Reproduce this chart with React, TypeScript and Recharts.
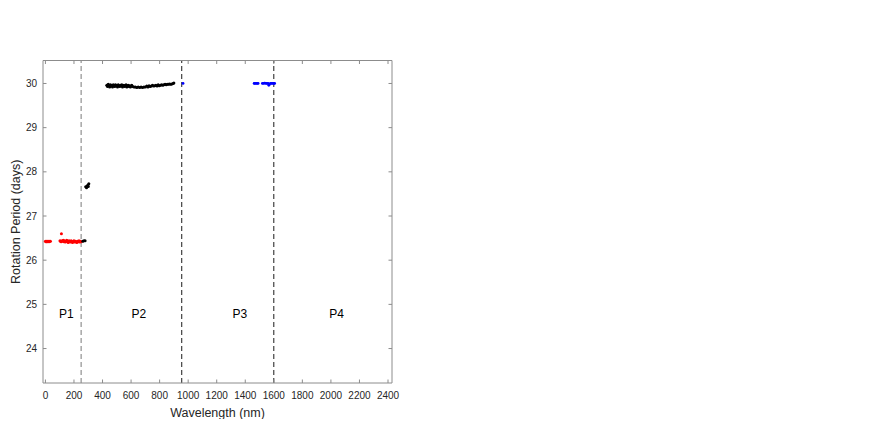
import { ScatterChart, Scatter, XAxis, YAxis, ReferenceLine } from 'recharts';

const X_TICKS = [0, 200, 400, 600, 800, 1000, 1200, 1400, 1600, 1800, 2000, 2200, 2400];
const Y_TICKS = [24, 25, 26, 27, 28, 29, 30];

// phase boundaries (nm)
const BOUNDARIES = [250, 955, 1600];
const PHASE_NAMES = ['P1', 'P2', 'P3', 'P4'];
const PHASE_X = [147, 654, 1362, 2039];
const PHASE_Y = 24.78;

const RED_POINTS = [
  [0, 26.43], [4, 26.42], [8, 26.43], [12, 26.42], [16, 26.43], [20, 26.43], [25, 26.42], [30, 26.43], [35, 26.43],
  [102, 26.44], [106, 26.43], [110, 26.42], [112, 26.6], [116, 26.44], [120, 26.43], [125, 26.45], [130, 26.42],
  [135, 26.44], [140, 26.41], [145, 26.43], [150, 26.45], [155, 26.42], [160, 26.4], [165, 26.44], [170, 26.43],
  [175, 26.41], [180, 26.44], [185, 26.42], [190, 26.4], [195, 26.43], [200, 26.44], [205, 26.41], [210, 26.43],
  [215, 26.42], [220, 26.4], [225, 26.43], [230, 26.42], [235, 26.44], [240, 26.41], [245, 26.43], [250, 26.42],
];

const BLACK_POINTS = [
  [262, 26.43], [270, 26.44], [278, 26.44],
  [282, 27.66], [288, 27.64], [292, 27.68], [298, 27.7], [304, 27.73], [300, 27.67],
  [430, 29.96], [435, 29.93], [440, 29.98], [445, 29.95], [450, 29.92], [455, 29.97], [460, 29.94], [465, 29.96],
  [470, 29.92], [475, 29.97], [480, 29.95], [485, 29.93], [490, 29.97], [495, 29.94], [500, 29.96], [505, 29.92],
  [510, 29.97], [515, 29.95], [520, 29.93], [525, 29.96], [530, 29.94], [535, 29.97], [540, 29.92], [545, 29.95],
  [550, 29.96], [555, 29.93], [560, 29.95], [565, 29.97], [570, 29.92], [575, 29.94], [580, 29.96], [585, 29.93],
  [590, 29.95], [595, 29.92], [600, 29.94], [605, 29.96], [610, 29.93],
  [620, 29.92], [630, 29.92], [640, 29.91], [650, 29.92], [660, 29.91], [670, 29.92], [680, 29.91], [690, 29.92], [700, 29.92],
  [710, 29.94], [718, 29.92], [726, 29.95], [734, 29.93], [742, 29.94], [750, 29.96], [758, 29.94], [766, 29.95],
  [774, 29.96], [782, 29.94], [790, 29.97], [798, 29.95], [806, 29.96], [814, 29.97], [822, 29.96], [830, 29.97],
  [838, 29.98], [846, 29.97], [854, 29.98], [862, 29.98], [870, 29.99], [878, 29.98], [886, 29.99], [894, 30.0], [900, 30.01],
];

const BLUE_POINTS = [
  [964, 30.0], [1462, 30.0], [1468, 30.0], [1476, 30.0], [1484, 30.0], [1490, 30.0],
  [1520, 30.0], [1528, 30.0], [1536, 30.01], [1544, 30.0], [1552, 30.0], [1560, 30.0], [1565, 29.96],
  [1568, 29.98], [1576, 30.0], [1584, 30.0], [1592, 30.0], [1600, 30.0], [1606, 30.0],
];

const FONT = '"Liberation Sans", Arial, Helvetica, sans-serif';
const AXIS_GREY = '#8c8c8c';
const TEXT = '#262626';
const TICK_LEN = 3.5;

const toRows = (pts: number[][]) => pts.map(([x, y]) => ({ x, y }));
const phaseRows = PHASE_NAMES.map((name, i) => ({ x: PHASE_X[i], y: PHASE_Y, name }));

const dot = (color: string, r: number) => (p: any) => (
  <circle cx={p.cx} cy={p.cy} r={r} fill={color} stroke="none" />
);

const phaseText = (p: any) => (
  <text x={p.cx} y={p.cy} textAnchor="middle" dominantBaseline="central" fontSize={12} fontFamily={FONT} fill="#000">
    {p.payload.name}
  </text>
);

// inward ticks, MATLAB style (axis lines drawn by recharts, ticks here)
const BottomTick = (p: any) => (
  <g>
    <line x1={p.x} x2={p.x} y1={p.y} y2={p.y - TICK_LEN} stroke={AXIS_GREY} />
    <text x={p.x} y={p.y + 15.5} textAnchor="middle" fontSize={10} fontFamily={FONT} fill={TEXT}>
      {p.payload.value}
    </text>
  </g>
);
const TopTick = (p: any) => (
  <line x1={p.x} x2={p.x} y1={p.y} y2={p.y + TICK_LEN} stroke={AXIS_GREY} />
);
const LeftTick = (p: any) => (
  <g>
    <line x1={p.x} x2={p.x + TICK_LEN} y1={p.y} y2={p.y} stroke={AXIS_GREY} />
    <text x={p.x - 6} y={p.y + 3.6} textAnchor="end" fontSize={10} fontFamily={FONT} fill={TEXT}>
      {p.payload.value}
    </text>
  </g>
);
const RightTick = (p: any) => (
  <line x1={p.x} x2={p.x - TICK_LEN} y1={p.y} y2={p.y} stroke={AXIS_GREY} />
);

export default function App() {
  return (
    <div style={{ width: 856, height: 411, fontFamily: FONT }}>
      <ScatterChart width={400} height={411} margin={{ top: 51.5, right: 15, bottom: 0, left: 0 }}>
        <XAxis
          type="number"
          dataKey="x"
          domain={[-17, 2428]}
          allowDataOverflow
          ticks={X_TICKS}
          interval={0}
          height={36}
          stroke={AXIS_GREY}
          tickLine={false}
          tickSize={0}
          tickMargin={0}
          tick={BottomTick}
          label={{ value: 'Wavelength (nm)', position: 'insideBottom', offset: 2, fontSize: 12.5, fill: TEXT, fontFamily: FONT }}
        />
        <XAxis
          xAxisId="top"
          orientation="top"
          type="number"
          dataKey="x"
          domain={[-17, 2428]}
          allowDataOverflow
          ticks={X_TICKS}
          interval={0}
          height={1}
          stroke={AXIS_GREY}
          tickLine={false}
          tickSize={0}
          tickMargin={0}
          tick={TopTick}
        />
        <YAxis
          type="number"
          dataKey="y"
          domain={[23.22, 30.52]}
          allowDataOverflow
          ticks={Y_TICKS}
          interval={0}
          width={35}
          stroke={AXIS_GREY}
          tickLine={false}
          tickSize={0}
          tickMargin={0}
          tick={LeftTick}
          label={{
            value: 'Rotation Period (days)',
            angle: -90,
            position: 'insideLeft',
            offset: 8,
            textAnchor: 'middle',
            fontSize: 12.5,
            fill: TEXT,
            fontFamily: FONT,
          }}
        />
        <YAxis
          yAxisId="right"
          orientation="right"
          type="number"
          dataKey="y"
          domain={[23.22, 30.52]}
          allowDataOverflow
          ticks={Y_TICKS}
          interval={0}
          width={1}
          stroke={AXIS_GREY}
          tickLine={false}
          tickSize={0}
          tickMargin={0}
          tick={RightTick}
        />
        {BOUNDARIES.map((b, i) => (
          <ReferenceLine
            key={b}
            x={b}
            stroke={i === 0 ? '#7a7a7a' : '#1a1a1a'}
            strokeWidth={1}
            strokeDasharray="5 3"
          />
        ))}
        <Scatter data={toRows(RED_POINTS)} shape={dot('#ff0000', 1.5)} isAnimationActive={false} />
        <Scatter data={toRows(BLACK_POINTS)} shape={dot('#000000', 1.5)} isAnimationActive={false} />
        <Scatter data={toRows(BLUE_POINTS)} shape={dot('#0000ff', 1.4)} isAnimationActive={false} />
        <Scatter data={phaseRows} shape={phaseText} isAnimationActive={false} />
      </ScatterChart>
    </div>
  );
}
